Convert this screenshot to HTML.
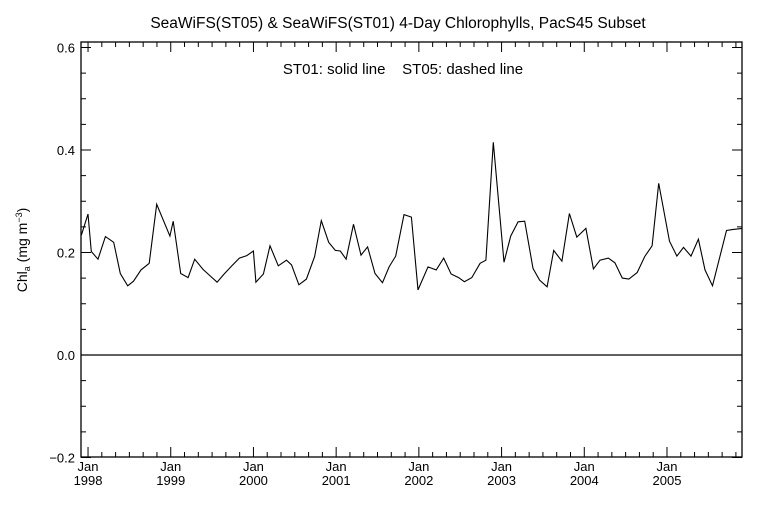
<!DOCTYPE html>
<html><head><meta charset="utf-8"><style>
html,body{margin:0;padding:0;background:#fff;}
svg{display:block;font-family:"Liberation Sans",sans-serif;}
</style></head><body>
<svg id="chart" width="768" height="512" viewBox="0 0 768 512">
<text x="398" y="28" font-size="15.5" text-anchor="middle">SeaWiFS(ST05) &amp; SeaWiFS(ST01) 4-Day Chlorophylls, PacS45 Subset</text>
<text x="403" y="74" font-size="15" text-anchor="middle" style="white-space:pre" xml:space="preserve">ST01: solid line    ST05: dashed line</text>
<text transform="translate(27,250) rotate(-90)" font-size="14" text-anchor="middle">Chl<tspan font-size="9" dy="3">a</tspan><tspan dy="-3"> (mg m</tspan><tspan font-size="9" dy="-5">−3</tspan><tspan dy="5">)</tspan></text>
<g id="axes"></g>
<g id="series"></g>
</svg>
<script>
const times=[1997.92,1998.00,1998.04,1998.12,1998.21,1998.31,1998.39,1998.48,1998.55,1998.64,1998.74,1998.83,1998.99,1999.03,1999.12,1999.21,1999.29,1999.39,1999.48,1999.56,1999.64,1999.74,1999.83,1999.92,2000.00,2000.03,2000.12,2000.20,2000.30,2000.40,2000.46,2000.55,2000.64,2000.74,2000.82,2000.91,2000.99,2001.05,2001.12,2001.21,2001.30,2001.38,2001.47,2001.56,2001.64,2001.72,2001.82,2001.91,2001.99,2002.11,2002.21,2002.30,2002.39,2002.48,2002.55,2002.64,2002.74,2002.81,2002.90,2003.03,2003.11,2003.20,2003.28,2003.38,2003.46,2003.55,2003.63,2003.73,2003.82,2003.91,2004.02,2004.11,2004.19,2004.29,2004.37,2004.46,2004.54,2004.64,2004.73,2004.82,2004.90,2005.03,2005.12,2005.20,2005.29,2005.38,2005.46,2005.55,2005.72,2005.80,2005.91];
const chlST01=[0.234,0.275,0.202,0.187,0.231,0.220,0.159,0.135,0.144,0.166,0.179,0.294,0.232,0.261,0.159,0.151,0.187,0.167,0.154,0.142,0.157,0.174,0.189,0.194,0.203,0.142,0.158,0.213,0.174,0.185,0.176,0.137,0.148,0.192,0.262,0.220,0.204,0.203,0.187,0.255,0.195,0.211,0.159,0.141,0.172,0.193,0.274,0.269,0.127,0.172,0.166,0.189,0.158,0.151,0.143,0.151,0.179,0.185,0.415,0.181,0.232,0.260,0.261,0.169,0.146,0.133,0.204,0.183,0.276,0.230,0.247,0.168,0.185,0.189,0.180,0.150,0.148,0.161,0.192,0.213,0.335,0.222,0.193,0.210,0.193,0.226,0.166,0.135,0.243,0.245,0.247];
const yTicks=[-0.2,0.0,0.2,0.4,0.6];
const yTickLabels=["−0.2","0.0","0.2","0.4","0.6"];
const xYears=[1998,1999,2000,2001,2002,2003,2004,2005];

const L=81,R=742,T=42,B=457;
const X0=1997.915,X1=2005.907;
function xs(t){return L+(t-X0)/(X1-X0)*(R-L);}
function ys(v){return 355-v*512.5;}
const NS="http://www.w3.org/2000/svg";
const axes=document.getElementById('axes');
function mk(tag,attrs,parent){const e=document.createElementNS(NS,tag);for(const k in attrs)e.setAttribute(k,attrs[k]);parent.appendChild(e);return e;}

const frame=mk('rect',{x:L,y:T,width:R-L,height:B-T,fill:'none',stroke:'#000','stroke-width':1.3},axes);



const zero=mk('line',{x1:L,x2:R,y1:ys(0),y2:ys(0),stroke:'#000','stroke-width':1.2},axes);



for(let v=-0.2;v<=0.6001;v+=0.05){
  const major=Math.abs(Math.round(v/0.2)*0.2-v)<1e-6;
  const len=major?10:5;
  const y=ys(v);
  const t1=mk('line',{x1:L,x2:L+len,y1:y,y2:y,stroke:'#000'},axes);
  
  
  const t2=mk('line',{x1:R,x2:R-len,y1:y,y2:y,stroke:'#000'},axes);
  
  
}
yTicks.forEach((v,i)=>{
  const t=mk('text',{x:L-6,y:ys(v)+5,'font-size':13,'text-anchor':'end'},axes);
  t.textContent=yTickLabels[i];
  
  
});
for(let m=0;m<12*9;m+=2){
  const t=1997+m/12;
  if(t<X0-1e-6||t>X1)continue;
  const major=m%12===0;
  const len=major?10:5;
  const x=xs(t);
  const a=mk('line',{x1:x,x2:x,y1:B,y2:B-len,stroke:'#000'},axes);
  
  
  const b=mk('line',{x1:x,x2:x,y1:T,y2:T+len,stroke:'#000'},axes);
  
  
}
xYears.forEach(yr=>{
  const x=xs(yr);
  const t=mk('text',{x:x,y:471,'font-size':13,'text-anchor':'middle'},axes);
  t.textContent='Jan';
  
  
  const u=mk('text',{x:x,y:485,'font-size':13,'text-anchor':'middle'},axes);
  u.textContent=String(yr);
  
  
});

const pts=times.map((t,i)=>xs(t).toFixed(1)+','+ys(chlST01[i]).toFixed(1)).join(' ');
const line=mk('polyline',{points:pts,fill:'none',stroke:'#000','stroke-width':1.1},document.getElementById('series'));


</script>
</body></html>
